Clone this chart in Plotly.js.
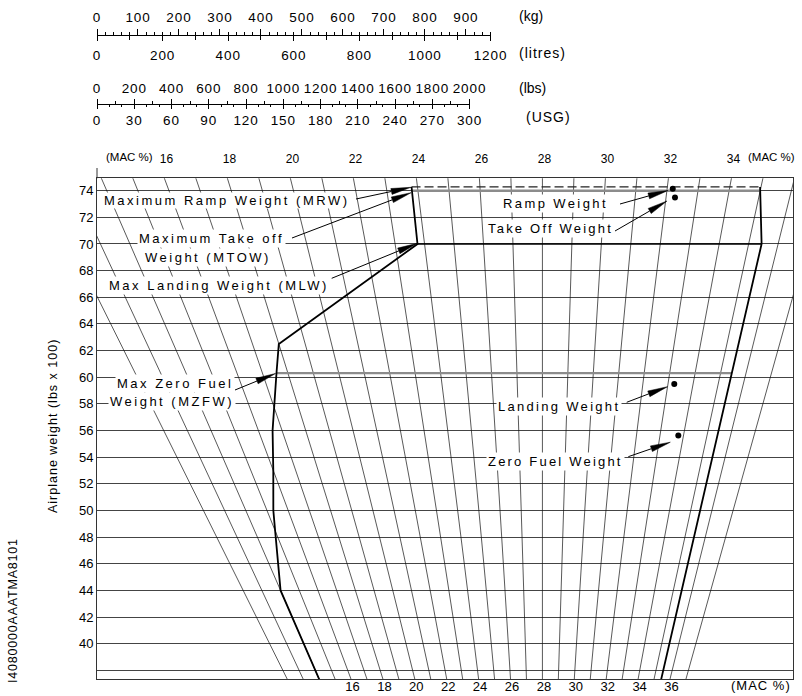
<!DOCTYPE html>
<html>
<head>
<meta charset="utf-8">
<script src="https://cdn.plot.ly/plotly-3.0.1.min.js"></script>
<style>body{margin:0;background:#fff}</style>
</head>
<body>
<div id="chart" style="width:802px;height:696px"></div>
<script>
// ---------------- DATA ----------------
const macLines = [12,13,14,15,16,17,18,19,20,21,22,23,24,25,26,27,28,29,30,31,32,33,34,35,36,37];
const topMacLabels = [16,18,20,22,24,26,28,30,32,34];
const bottomMacLabels = [16,18,20,22,24,26,28,30,32,34,36];
const weightTickVals = [38,40,42,44,46,48,50,52,54,56,58,60,62,64,66,68,70,72,74];
const weightTickText = ['', '40','42','44','46','48','50','52','54','56','58','60','62','64','66','68','70','72','74'];

// CG envelope (MAC %, weight lbs x 100)
const envFwdMac = [14.0, 14.0, 14.9, 15.3, 16.0, 16.6, 17.55, 18.0, 23.76, 23.81];
const envFwdW   = [37.0, 44.0, 48.0, 50.0, 53.0, 56.0, 60.3, 62.5, 70.0, 74.28];
const envAftMac = [34.97, 35.44, 35.45];
const envAftW   = [74.28, 70.0, 37.0];

const mrwMac = [23.81, 34.97];  const mrwW = 74.28;   // Maximum Ramp Weight (dashed)
const mtowMac = [23.81, 35.0];  const mtowW = 74.0;   // Maximum Take off Weight
const mlwMac = [23.76, 35.44];  const mlwW = 70.0;    // Max Landing Weight
const mzfwMac = [17.55, 35.45]; const mzfwW = 60.3;   // Max Zero Fuel Weight

const pointNames = ['Ramp Weight', 'Take Off Weight', 'Landing Weight', 'Zero Fuel Weight'];
const pointMac = [32.18, 32.29, 33.25, 33.78];
const pointW   = [74.15, 73.48, 59.5, 55.62];

// conversion scales
const kgTicks = [0,100,200,300,400,500,600,700,800,900];
const litreTicks = [0,200,400,600,800,1000,1200];
const lbsTicks = [0,200,400,600,800,1000,1200,1400,1600,1800,2000];
const usgTicks = [0,30,60,90,120,150,180,210,240,270,300];

// ---------------- GEOMETRY ----------------
const MAC_REF = 28, W_OFF = 1.2;
const idx = (mac, w) => (mac - MAC_REF) * (w + W_OFF);   // moment index
const X_RANGE = [-1076.4, 605.6];
const Y_RANGE = [37.35, 74.93];
const FONT = 'Liberation Sans, Arial, sans-serif';

// paper helpers (plot area 97..793 x 0..679 px)
const px2x = px => (px - 97) / 696;
const py2y = py => (679 - py) / 679;
const yTopDomain = py2y(178.3);

// ---------------- TRACES ----------------
const gx = [], gy = [];
macLines.forEach(m => { gx.push(idx(m, 36), idx(m, 76), null); gy.push(36, 76, null); });

const base = {type: 'scatter', mode: 'lines', xaxis: 'x', yaxis: 'y2', hoverinfo: 'skip', showlegend: false};
const traces = [
  Object.assign({}, base, {x: gx, y: gy, line: {color: '#111', width: 0.7}}),
  Object.assign({}, base, {x: mtowMac.map(m => idx(m, mtowW)), y: mtowMac.map(() => mtowW), line: {color: '#8c8c8c', width: 2.4}}),
  Object.assign({}, base, {x: mzfwMac.map(m => idx(m, mzfwW)), y: mzfwMac.map(() => mzfwW), line: {color: '#8c8c8c', width: 2.2}}),
  Object.assign({}, base, {x: mrwMac.map(m => idx(m, mrwW)), y: mrwMac.map(() => mrwW), line: {color: '#222', width: 1.3, dash: '9px,4px'}}),
  Object.assign({}, base, {x: mlwMac.map(m => idx(m, mlwW)), y: mlwMac.map(() => mlwW), line: {color: '#000', width: 1.6}}),
  Object.assign({}, base, {x: envFwdMac.map((m, i) => idx(m, envFwdW[i])), y: envFwdW, line: {color: '#000', width: 1.8}}),
  Object.assign({}, base, {x: envAftMac.map((m, i) => idx(m, envAftW[i])), y: envAftW, line: {color: '#000', width: 1.8}}),
  Object.assign({}, base, {mode: 'markers', x: pointMac.map((m, i) => idx(m, pointW[i])), y: pointW, text: pointNames,
    marker: {color: '#000', size: 6}})
];
// invisible anchor traces so the scale / label axes get drawn
[['x2', 'y'], ['x3', 'y'], ['x4', 'y'], ['x5', 'y'], ['x6', 'y2']].forEach(([xa, ya]) => {
  traces.push({type: 'scatter', mode: 'markers', x: [0], y: [ya === 'y' ? 0.5 : 50], xaxis: xa, yaxis: ya,
    marker: {opacity: 0, size: 1}, hoverinfo: 'skip', showlegend: false});
});

// ---------------- ANNOTATIONS ----------------
function lbl(text, cx, cy, o) {
  return Object.assign({xref: 'paper', yref: 'paper', x: px2x(cx), y: py2y(cy), text: text, showarrow: false,
    font: {family: FONT, size: 13, color: '#000'}, xanchor: 'center', yanchor: 'middle'}, o || {});
}
const sp = (t, s) => '<span style="letter-spacing:' + s + 'px">' + t + '</span>';
const boxed = {bgcolor: '#fff', borderpad: 1};

const annotations = [
  lbl(sp('Maximum Ramp Weight (MRW)', 2.5), 226, 201, {bgcolor: '#fff', borderpad: 0}),
  lbl(sp('Maximum Take off', 2.5), 211.7, 239, boxed),
  lbl(sp('Weight (MTOW)', 2.5), 208, 257.7, boxed),
  lbl(sp('Max Landing Weight (MLW)', 2.5), 219, 285.3, boxed),
  lbl(sp('Max Zero Fuel', 2.5), 175, 383.3, boxed),
  lbl(sp('Weight (MZFW)', 2.5), 172, 401.7, boxed),
  lbl(sp(pointNames[0], 2.4), 555.5, 203.8, boxed),
  lbl(sp(pointNames[1], 2.2), 550.8, 228.7, boxed),
  lbl(sp(pointNames[2], 2.3), 558.8, 406, boxed),
  lbl(sp(pointNames[3], 2.2), 555.5, 461, boxed),
  lbl('(MAC %)', 129, 156.7, {font: {family: FONT, size: 11.5, color: '#000'}}),
  lbl('(MAC %)', 771.7, 157, {font: {family: FONT, size: 11.5, color: '#000'}}),
  lbl(sp('(MAC %)', 1), 760.8, 685.5),
  lbl('(kg)', 517, 15.5, {xanchor: 'left', font: {family: FONT, size: 14, color: '#000'}}),
  lbl(sp('(litres)', 1), 517, 53.3, {xanchor: 'left', font: {family: FONT, size: 14, color: '#000'}}),
  lbl('(lbs)', 517, 88.3, {xanchor: 'left', font: {family: FONT, size: 14, color: '#000'}}),
  lbl(sp('(USG)', 1), 524, 116.7, {xanchor: 'left', font: {family: FONT, size: 14, color: '#000'}}),
  lbl(sp('Airplane weight (lbs x 100)', 1), 53, 426, {textangle: -90, font: {family: FONT, size: 12.5, color: '#000'}}),
  lbl(sp('I4080000AAATMA8101', 0.8), 13, 611, {textangle: -90, font: {family: FONT, size: 12.5, color: '#000'}})
];

// ---------------- ARROWS (pixel tail -> tip) ----------------
const arrows = [
  [[356, 199], [411, 187.3]],
  [[292, 238], [411, 192.7]],
  [[331.7, 278.3], [417.3, 243.3]],
  [[235, 390], [275.5, 373.5]],
  [[620, 204], [668, 190.5]],
  [[615, 231], [667, 201]],
  [[626.7, 402.3], [667.5, 386.7]],
  [[628.3, 456.7], [670.3, 442.2]]
];
const shapes = [];
arrows.forEach(a => {
  const [t, p] = a;
  const dx = p[0] - t[0], dy = p[1] - t[1], len = Math.hypot(dx, dy);
  const ux = dx / len, uy = dy / len, nx = -uy, ny = ux;
  const HL = 20, HW = 3;
  const bx = p[0] - HL * ux, by = p[1] - HL * uy;
  shapes.push({type: 'line', xref: 'paper', yref: 'paper', x0: px2x(t[0]), y0: py2y(t[1]), x1: px2x(bx), y1: py2y(by),
    line: {color: '#000', width: 1}});
  const pts = [[p[0], p[1]], [bx + HW * nx, by + HW * ny], [bx - HW * nx, by - HW * ny]];
  shapes.push({type: 'path', xref: 'paper', yref: 'paper',
    path: 'M' + pts.map(q => px2x(q[0]).toFixed(5) + ',' + py2y(q[1]).toFixed(5)).join('L') + 'Z',
    fillcolor: '#000', line: {color: '#000', width: 0.5}});
});
// left frame extension above plot
shapes.push({type: 'line', xref: 'paper', yref: 'paper', x0: 0, x1: 0, y0: yTopDomain, y1: py2y(168),
  line: {color: '#333', width: 1}});

// ---------------- LAYOUT ----------------
const tf = {family: FONT, size: 13, color: '#000'};
const sf = {family: FONT, size: 13.5, color: '#000'};
const scaleText = arr => arr.map(v => sp(String(v), 0.9));
const scaleAxis = (o) => Object.assign({anchor: 'free', showline: true, linecolor: '#000', linewidth: 1,
  ticks: 'outside', tickcolor: '#000', tickwidth: 1, showgrid: false, zeroline: false, tickfont: sf,
  fixedrange: true, tickmode: 'array'}, o);

const layout = {
  width: 802, height: 696,
  margin: {l: 97, r: 9, t: 0, b: 17},
  paper_bgcolor: '#fff', plot_bgcolor: 'rgba(0,0,0,0)',
  showlegend: false,
  font: {family: FONT, color: '#000'},
  xaxis: {anchor: 'y2', range: X_RANGE, showgrid: false, zeroline: false, showline: true, mirror: true,
    linecolor: '#333', linewidth: 1, ticks: '', tickmode: 'array',
    tickvals: bottomMacLabels.map(m => idx(m, Y_RANGE[0]) + 1.5 / 0.4138), ticktext: bottomMacLabels.map(String),
    tickfont: tf, ticklabelstandoff: -5, fixedrange: true},
  xaxis6: {overlaying: 'x', anchor: 'y2', side: 'top', range: X_RANGE, showgrid: false, zeroline: false,
    showline: false, ticks: '', tickmode: 'array',
    tickvals: topMacLabels.map(m => idx(m, Y_RANGE[1]) + 2 / 0.4138), ticktext: topMacLabels.map(String),
    tickfont: {family: FONT, size: 12, color: '#000'}, ticklabelstandoff: 12, fixedrange: true},
  yaxis: {domain: [0.77, 1], visible: false, range: [0, 1], fixedrange: true},
  yaxis2: {anchor: 'x', domain: [0, yTopDomain], range: Y_RANGE, showgrid: true, gridcolor: '#444', gridwidth: 1,
    zeroline: false, showline: true, mirror: true, linecolor: '#333', linewidth: 1, ticks: '',
    tickmode: 'array', tickvals: weightTickVals, ticktext: weightTickText, tickfont: tf, fixedrange: true},
  xaxis2: scaleAxis({position: py2y(35), domain: [0, px2x(490.5)], range: [0, 960], side: 'top',
    tickvals: kgTicks, ticktext: scaleText(kgTicks), ticklen: 6, ticklabelstandoff: 2,
    minor: {dtick: 20, tick0: 0, ticks: 'outside', ticklen: 3, tickcolor: '#000'}}),
  xaxis3: scaleAxis({position: py2y(35), domain: [0, px2x(490.5)], range: [0, 1200], side: 'bottom',
    tickvals: litreTicks, ticktext: scaleText(litreTicks), ticklen: 5, ticklabelstandoff: 3,
    minor: {dtick: 100, tick0: 0, ticks: 'outside', ticklen: 4, tickcolor: '#000'}}),
  xaxis4: scaleAxis({position: py2y(104), domain: [0, px2x(469.5)], range: [0, 2000], side: 'top',
    tickvals: lbsTicks, ticktext: scaleText(lbsTicks), ticklen: 5, ticklabelstandoff: 1,
    minor: {dtick: 100, tick0: 0, ticks: 'outside', ticklen: 3, tickcolor: '#000'}}),
  xaxis5: scaleAxis({position: py2y(104), domain: [0, px2x(469.5)], range: [0, 300], side: 'bottom',
    tickvals: usgTicks, ticktext: scaleText(usgTicks), ticklen: 4, ticklabelstandoff: 0,
    minor: {dtick: 10, tick0: 0, ticks: 'outside', ticklen: 2, tickcolor: '#000'}}),
  annotations: annotations,
  shapes: shapes
};

Plotly.newPlot('chart', traces, layout, {staticPlot: true, displayModeBar: false});
</script>
</body>
</html>
